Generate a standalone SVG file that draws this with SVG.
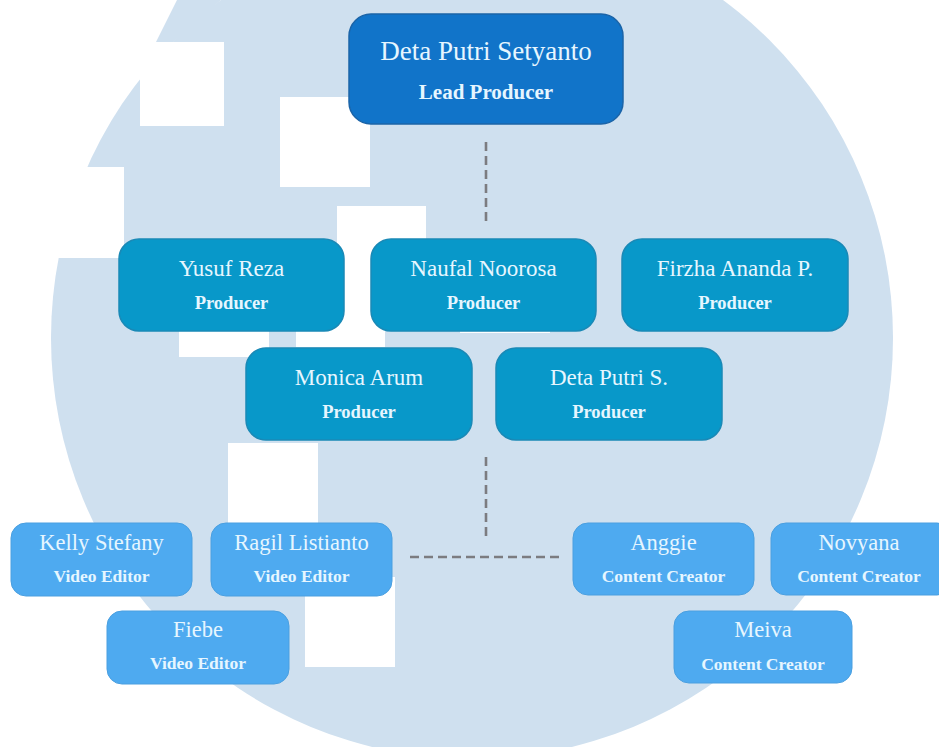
<svg xmlns="http://www.w3.org/2000/svg" width="939" height="747" viewBox="0 0 939 747">
  <defs>
    <style>
      .bg { fill: #ffffff; }
      .disc { fill: #cfe0ef; }
      .block { fill: #ffffff; }
      .link { fill: none; stroke: #7c7c80; stroke-width: 2.6; stroke-dasharray: 9 5; }
      .lead { fill: #1174c9; stroke: #1b64a8; stroke-width: 1.5; }
      .prod { fill: #0898c9; stroke: #1a89b6; stroke-width: 1.5; }
      .crew { fill: #4eaaf0; stroke: #4a9fe0; stroke-width: 1; }
      text { font-family: "Liberation Serif", "Times New Roman", serif; fill: #e6f6ff; text-anchor: middle; }
      .t-lead { font-size: 27px; }
      .s-lead { font-size: 21px; font-weight: bold; }
      .t-prod { font-size: 23px; }
      .s-prod { font-size: 18.5px; font-weight: bold; }
      .t-crew { font-size: 22.5px; }
      .s-crew { font-size: 17.5px; font-weight: bold; }
    </style>
  </defs>

  <rect class="bg" x="0" y="0" width="939" height="747"/>

  <!-- background disc with white squares -->
  <g id="backdrop">
    <circle class="disc" cx="472" cy="338" r="421"/>
    <polygon class="disc" points="177,0 221,0 173,42 156,42"/>
    <rect class="block" x="140" y="42" width="84" height="84"/>
    <rect class="block" x="34" y="167" width="90" height="91"/>
    <rect class="block" x="280" y="97" width="90" height="90"/>
    <rect class="block" x="337" y="206" width="89" height="90"/>
    <rect class="block" x="179" y="268" width="90" height="89"/>
    <rect class="block" x="296" y="257" width="89" height="90"/>
    <rect class="block" x="460" y="243" width="90" height="90"/>
    <rect class="block" x="228" y="443" width="90" height="90"/>
    <rect class="block" x="305" y="577" width="90" height="90"/>
  </g>

  <!-- connectors -->
  <g id="connectors">
    <line class="link" x1="486" y1="142" x2="486" y2="222"/>
    <line class="link" x1="486" y1="457" x2="486" y2="537"/>
    <line class="link" x1="410" y1="557" x2="560" y2="557"/>
  </g>

  <!-- lead -->
  <g id="node-lead">
    <rect class="lead" x="349" y="14" width="274" height="110" rx="22"/>
    <text class="t-lead" x="486" y="60">Deta Putri Setyanto</text>
    <text class="s-lead" x="486" y="99">Lead Producer</text>
  </g>

  <!-- producers -->
  <g id="node-yusuf">
    <rect class="prod" x="119" y="239" width="225" height="92" rx="20"/>
    <text class="t-prod" x="231.5" y="276">Yusuf Reza</text>
    <text class="s-prod" x="231.5" y="309">Producer</text>
  </g>
  <g id="node-naufal">
    <rect class="prod" x="371" y="239" width="225" height="92" rx="20"/>
    <text class="t-prod" x="483.5" y="276">Naufal Noorosa</text>
    <text class="s-prod" x="483.5" y="309">Producer</text>
  </g>
  <g id="node-firzha">
    <rect class="prod" x="622" y="239" width="226" height="92" rx="20"/>
    <text class="t-prod" x="735" y="276">Firzha Ananda P.</text>
    <text class="s-prod" x="735" y="309">Producer</text>
  </g>
  <g id="node-monica">
    <rect class="prod" x="246" y="348" width="226" height="92" rx="20"/>
    <text class="t-prod" x="359" y="385">Monica Arum</text>
    <text class="s-prod" x="359" y="418">Producer</text>
  </g>
  <g id="node-deta-s">
    <rect class="prod" x="496" y="348" width="226" height="92" rx="20"/>
    <text class="t-prod" x="609" y="385">Deta Putri S.</text>
    <text class="s-prod" x="609" y="418">Producer</text>
  </g>

  <!-- video editors -->
  <g id="node-kelly">
    <rect class="crew" x="11" y="523" width="181" height="73" rx="15"/>
    <text class="t-crew" x="101.5" y="550">Kelly Stefany</text>
    <text class="s-crew" x="101.5" y="582">Video Editor</text>
  </g>
  <g id="node-ragil">
    <rect class="crew" x="211" y="523" width="181" height="73" rx="15"/>
    <text class="t-crew" x="301.5" y="550">Ragil Listianto</text>
    <text class="s-crew" x="301.5" y="582">Video Editor</text>
  </g>
  <g id="node-fiebe">
    <rect class="crew" x="107" y="611" width="182" height="73" rx="15"/>
    <text class="t-crew" x="198" y="637">Fiebe</text>
    <text class="s-crew" x="198" y="669">Video Editor</text>
  </g>

  <!-- content creators -->
  <g id="node-anggie">
    <rect class="crew" x="573" y="523" width="181" height="72" rx="15"/>
    <text class="t-crew" x="663.5" y="550">Anggie</text>
    <text class="s-crew" x="663.5" y="582">Content Creator</text>
  </g>
  <g id="node-novyana">
    <rect class="crew" x="771" y="523" width="181" height="72" rx="15"/>
    <text class="t-crew" x="859" y="550">Novyana</text>
    <text class="s-crew" x="859" y="582">Content Creator</text>
  </g>
  <g id="node-meiva">
    <rect class="crew" x="674" y="611" width="178" height="72" rx="15"/>
    <text class="t-crew" x="763" y="637">Meiva</text>
    <text class="s-crew" x="763" y="670">Content Creator</text>
  </g>
</svg>
